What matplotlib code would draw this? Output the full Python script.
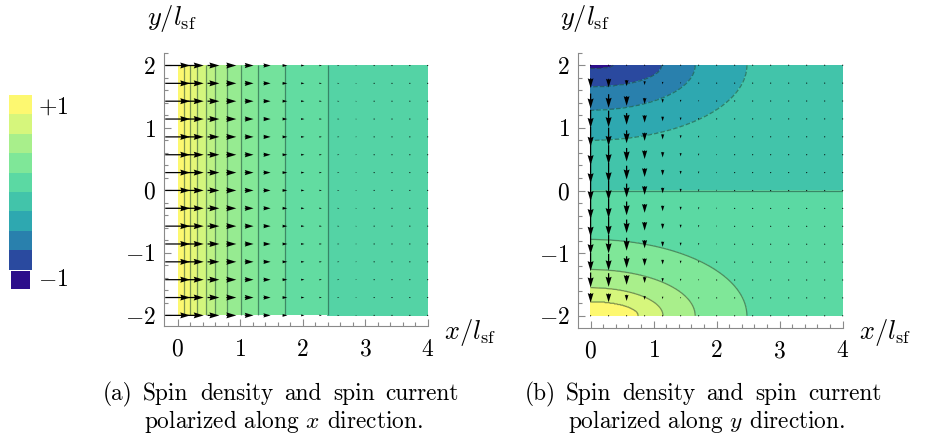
import numpy as np
import matplotlib
matplotlib.use("Agg")
import matplotlib.pyplot as plt
from matplotlib.colors import LinearSegmentedColormap, Normalize
from matplotlib.ticker import FuncFormatter

plt.rcParams["mathtext.fontset"] = "cm"
plt.rcParams["font.family"] = ["cmr10", "DejaVu Serif"]
plt.rcParams["axes.formatter.use_mathtext"] = True

W, H = 930, 444

# colour key, top (+1) to bottom (-1)
key_colors = ["#fdf870", "#d6f67c", "#a8ef8b", "#7fe798", "#5bd9a3",
              "#42c4aa", "#2ea8b0", "#2980ad", "#2a4a9f", "#2c0e8b"]
key_levels = [1.0, 0.8, 0.6, 0.4, 0.2, 0.0, -0.2, -0.4, -0.6, -0.8, -1.0]

# panel (a): spin density only depends on x, contour lines
a_line_x = [0.10, 0.20, 0.315, 0.45, 0.60, 0.785, 1.01, 1.29, 1.72, 2.40]
a_line_level = [0.909, 0.818, 0.727, 0.636, 0.545, 0.455, 0.364, 0.273, 0.182, 0.091]
a_edge_level = [1.0, 0.02]          # value at x = 0 and at x = 4
# arrow length (x component) per column x = 0 ... 4
a_arrow_len = [0.40, 0.26, 0.19, 0.16, 0.14, 0.115, 0.08, 0.055,
               0.04, 0.028, 0.02, 0.016, 0.013, 0.011, 0.01]

# panel (b): contour arcs around the two left corners,
# horizontal / vertical reach of every level line
b_bot_level = [1.0, 0.8, 0.6, 0.4, 0.2, 0.0]
b_bot_rx = [0.001, 0.76, 1.15, 1.66, 2.48, 1000.0]
b_bot_ry = [0.0003, 0.23, 0.45, 0.74, 1.22, 2.0]
b_top_level = [-1.0, -0.8, -0.6, -0.4, -0.2, 0.0]
b_top_rx = [0.001, 0.36, 1.13, 1.66, 2.48, 1000.0]
b_top_ry = [0.0002, 0.06, 0.35, 0.72, 1.20, 2.0]
# arrow length (downwards) = column factor * row factor
b_arrow_col = [0.34, 0.31, 0.22, 0.14, 0.09, 0.055, 0.035, 0.022,
               0.015, 0.011, 0.008, 0.006, 0.005, 0.004, 0.003]
b_arrow_row = [0.0, 0.45, 0.7, 0.85, 0.94, 0.98, 1.0, 1.0,
               1.0, 0.98, 0.94, 0.85, 0.7, 0.45, 0.0]

tick_vals = [-2, -1, 0, 1, 2]
xtick_vals = [0, 1, 2, 3, 4]

# caption words, line 1 is justified in the original
cap1_words = ["Spin", "density", "and", "spin", "current"]
cap_a_x = [103, 143, 200, 284, 333, 385]
cap_b_x = [525, 566, 622, 706, 755, 808]

# colormap anchored at the band centres of the key
anchors = [(0.0, key_colors[-1])]
for i, c in enumerate(key_colors[::-1]):
    anchors.append((0.05 + 0.1 * i, c))
anchors.append((1.0, key_colors[0]))
cmap = LinearSegmentedColormap.from_list("key", anchors)
norm = Normalize(-1, 1)

xs = np.linspace(0, 4, 401)
ys = np.linspace(-2, 2, 401)
X, Y = np.meshgrid(xs, ys)

field_a = np.interp(X, [0.0] + a_line_x + [4.0],
                    [a_edge_level[0]] + a_line_level + [a_edge_level[1]])


def arc_field(dist, levels, rx, ry):
    # value between neighbouring elliptic level lines
    g = np.array([(X / a) ** 2 + (dist / b) ** 2 for a, b in zip(rx, ry)])
    out = np.zeros_like(X)
    out[g[0] <= 1] = levels[0]
    for k in range(len(levels) - 1):
        m = (g[k] > 1) & (g[k + 1] <= 1)
        t = (g[k][m] - 1) / (g[k][m] - g[k + 1][m])
        out[m] = levels[k] + t * (levels[k + 1] - levels[k])
    return out


field_b = np.where(Y < 0, arc_field(Y + 2, b_bot_level, b_bot_rx, b_bot_ry),
                   arc_field(2 - Y, b_top_level, b_top_rx, b_top_ry))
field_b[Y == 0] = 0.0

qx = np.linspace(0, 4, 15)
qy = np.linspace(-2, 2, 15)
QX, QY = np.meshgrid(qx, qy)
Ua = np.tile(a_arrow_len, (15, 1))
Va = np.zeros_like(Ua)
Ub = np.zeros((15, 15))
Vb = -np.outer(b_arrow_row, b_arrow_col)

fig = plt.figure(figsize=(W / 100, H / 100), dpi=100)


def style_axes(ax):
    for side in ["top", "right"]:
        ax.spines[side].set_visible(False)
    for side in ["left", "bottom"]:
        ax.spines[side].set_color("#8a8a8a")
        ax.spines[side].set_linewidth(0.8)
    ax.set_xticks(xtick_vals)
    ax.set_yticks(tick_vals)
    ax.set_xticks(np.arange(0, 4.01, 0.2), minor=True)
    ax.set_yticks(np.arange(-2.0, 2.21, 0.2), minor=True)
    fmt = FuncFormatter(lambda v, _: r"$%d$" % round(v))
    ax.xaxis.set_major_formatter(fmt)
    ax.yaxis.set_major_formatter(fmt)
    ax.tick_params(which="both", direction="in", color="#8a8a8a", width=0.8,
                   labelsize=17)
    ax.tick_params(which="major", length=5)
    ax.tick_params(which="minor", length=3)
    ax.tick_params(axis="y", pad=6)
    ax.tick_params(axis="x", pad=9)
    ax.patch.set_visible(False)


quiv_kw = dict(angles="xy", scale_units="xy", scale=1, pivot="middle",
               units="xy", width=0.02, headwidth=4.8, headlength=8,
               headaxislength=7.2, color="k", zorder=3, clip_on=False)
line_kw = dict(colors="#1f4434", linewidths=0.9, alpha=0.55)

# panel (a)
ax_a = fig.add_axes([164 / W, 1 - 326 / H, (427.7 - 164) / W, (326 - 53) / H])
lv_a = [0.0] + a_line_level[::-1] + [1.001]
ax_a.contourf(xs, ys, field_a, levels=lv_a, cmap=cmap, norm=norm)
ax_a.contour(xs, ys, field_a, levels=a_line_level[::-1], **line_kw)
ax_a.quiver(QX, QY, Ua, Va, **quiv_kw)
ax_a.set_xlim(-0.22, 4.0)
ax_a.set_ylim(-2.17, 2.2)
style_axes(ax_a)

# panel (b)
ax_b = fig.add_axes([578 / W, 1 - 327.7 / H, (842.7 - 578) / W, (327.7 - 52.7) / H])
lv_b = key_levels[::-1]
ax_b.contourf(xs, ys, field_b, levels=lv_b, cmap=cmap, norm=norm)
ax_b.contour(xs, ys, field_b, levels=lv_b[1:-1], **line_kw)
ax_b.quiver(QX, QY, Ub, Vb, **quiv_kw)
ax_b.set_xlim(-0.2, 4.0)
ax_b.set_ylim(-2.19, 2.19)
style_axes(ax_b)

# colour key
cax = fig.add_axes([9 / W, 1 - 289 / H, 23 / W, 194 / H])
widths = [1.0] * 9 + [0.85]
cax.bar([0.5] * 10, [0.2] * 9 + [0.19], bottom=key_levels[1:], width=widths,
        color=key_colors, align="center")
cax.set_xlim(0, 1)
cax.set_ylim(-1, 1)
cax.axis("off")
fig.text(38 / W, 1 - 108 / H, r"$+1$", va="center", ha="left", fontsize=17)
fig.text(38 / W, 1 - 280 / H, r"$-1$", va="center", ha="left", fontsize=17)

# axis labels
for xp in [172, 585]:
    fig.text(xp / W, 1 - 18 / H, r"$y/l_{\rm sf}$", ha="center", va="center",
             fontsize=19)
for xp in [470, 885]:
    fig.text(xp / W, 1 - 332 / H, r"$x/l_{\rm sf}$", ha="center", va="center",
             fontsize=19)

# captions
cap_size = 16.8
for tag, xpos, var, x2 in [("(a)", cap_a_x, "x", 144), ("(b)", cap_b_x, "y", 568)]:
    for word, xp in zip([tag] + cap1_words, xpos):
        fig.text(xp / W, 1 - 400 / H, word, fontsize=cap_size, va="baseline")
    fig.text(x2 / W, 1 - 428 / H, r"polarized along $%s$ direction." % var,
             fontsize=cap_size, va="baseline")

fig.savefig("out.png", dpi=100)
